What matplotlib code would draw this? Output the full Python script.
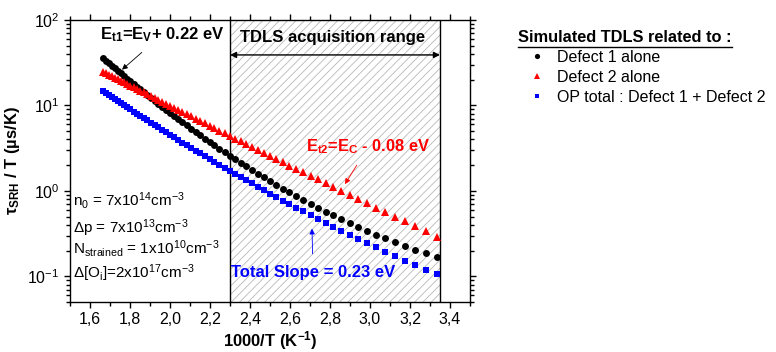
import matplotlib
matplotlib.use('Agg')
import matplotlib.pyplot as plt
import numpy as np
from matplotlib.ticker import MultipleLocator, FuncFormatter
from matplotlib.lines import Line2D

plt.rcParams['font.family'] = ['Liberation Sans', 'DejaVu Sans']
plt.rcParams['mathtext.fontset'] = 'custom'
plt.rcParams['mathtext.rm'] = 'Liberation Sans'
plt.rcParams['mathtext.it'] = 'Liberation Sans:italic'
plt.rcParams['mathtext.bf'] = 'Liberation Sans:bold'
plt.rcParams['hatch.linewidth'] = 0.6

# simulation temperatures (K), 5 K steps
temperature = [600, 595, 590, 585, 580, 575, 570, 565, 560, 555,
               550, 545, 540, 535, 530, 525, 520, 515, 510, 505,
               500, 495, 490, 485, 480, 475, 470, 465, 460, 455,
               450, 445, 440, 435, 430, 425, 420, 415, 410, 405,
               400, 395, 390, 385, 380, 375, 370, 365, 360, 355,
               350, 345, 340, 335, 330, 325, 320, 315, 310, 305, 300]

# tau_SRH / T (us/K)
defect1 = [35.8, 33.5, 31.3, 29.3, 27.4, 25.5, 23.8, 22.2, 20.6, 19.2,
           17.8, 16.6, 15.4, 14.2, 13.2, 12.2, 11.3, 10.4, 9.62, 8.87,
           8.17, 7.52, 6.92, 6.35, 5.83, 5.35, 4.90, 4.48, 4.10, 3.74,
           3.41, 3.11, 2.84, 2.58, 2.35, 2.13, 1.94, 1.76, 1.59, 1.44,
           1.30, 1.18, 1.06, 0.962, 0.867, 0.782, 0.705, 0.636, 0.573, 0.516,
           0.465, 0.419, 0.377, 0.340, 0.306, 0.277, 0.250, 0.226, 0.205, 0.186, 0.169]
defect2 = [24.9, 23.9, 23.0, 22.1, 21.2, 20.4, 19.5, 18.7, 17.9, 17.1,
           16.3, 15.6, 14.9, 14.2, 13.5, 12.9, 12.2, 11.6, 11.0, 10.5,
           9.92, 9.39, 8.87, 8.37, 7.90, 7.44, 7.00, 6.58, 6.18, 5.79,
           5.42, 5.07, 4.73, 4.41, 4.10, 3.81, 3.53, 3.27, 3.03, 2.79,
           2.57, 2.36, 2.17, 1.98, 1.81, 1.65, 1.50, 1.36, 1.23, 1.11,
           1.00, 0.898, 0.804, 0.717, 0.637, 0.565, 0.499, 0.439, 0.385, 0.336, 0.292]
op_total = [14.6, 13.9, 13.2, 12.5, 11.8, 11.2, 10.6, 10.0, 9.50, 8.97,
            8.47, 7.99, 7.53, 7.09, 6.67, 6.27, 5.88, 5.52, 5.17, 4.84,
            4.53, 4.23, 3.95, 3.68, 3.43, 3.19, 2.96, 2.75, 2.55, 2.36,
            2.19, 2.02, 1.86, 1.72, 1.58, 1.45, 1.33, 1.22, 1.12, 1.02,
            0.931, 0.849, 0.771, 0.701, 0.635, 0.575, 0.520, 0.469, 0.423, 0.380,
            0.341, 0.306, 0.274, 0.244, 0.218, 0.194, 0.172, 0.153, 0.135, 0.119, 0.105]

tdls_range = (2.3, 3.35)

inv_t = 1000.0 / np.array(temperature, dtype=float)

fig = plt.figure(figsize=(7.76, 3.52), dpi=100)
ax = fig.add_axes([70 / 776, 1 - 302 / 352, 400 / 776, 282 / 352])

# TDLS acquisition window
ax.axvspan(tdls_range[0], tdls_range[1], facecolor='white', edgecolor='#b8b8b8',
           hatch='////', linewidth=0, zorder=0)
for xv in tdls_range:
    ax.axvline(xv, color='black', lw=1.0, zorder=1)

h1, = ax.plot(inv_t, defect1, 'o', color='black', ms=5.0, mew=0, zorder=3)
h2, = ax.plot(inv_t, defect2, '^', color='#ff0000', ms=6.2, mew=0, zorder=3)
h3, = ax.plot(inv_t, op_total, 's', color='#0000ff', ms=4.5, mew=0, zorder=3)

ax.set_yscale('log')
ax.set_xlim(1.5, 3.5)
ax.set_ylim(0.05, 100)
ax.xaxis.set_major_locator(MultipleLocator(0.2))
ax.xaxis.set_minor_locator(MultipleLocator(0.1))
ax.xaxis.set_major_formatter(FuncFormatter(lambda v, _: f'{v:.1f}'.replace('.', ',')))
ax.tick_params(which='both', direction='out', top=True, right=True, labelsize=11.5, width=1)
ax.tick_params(which='major', length=4)
ax.tick_params(which='minor', length=3)
for sp in ax.spines.values():
    sp.set_linewidth(1.0)

ax.set_xlabel(r'1000/T (K$^{\mathbf{-1}}$)', fontsize=12, fontweight='bold', labelpad=1)
ax.set_ylabel(r'τ$_{\mathbf{SRH}}$ / T (µs/K)', fontsize=12, fontweight='bold', labelpad=4)

# range arrow and labels
ax.annotate('', xy=(tdls_range[0], 39), xytext=(tdls_range[1], 39),
            arrowprops=dict(arrowstyle='<|-|>', color='black', lw=1.0,
                            mutation_scale=9, shrinkA=0, shrinkB=0))
ax.text(2.815, 63, 'TDLS acquisition range', ha='center', va='center',
        fontsize=12, fontweight='bold')

ax.annotate(r'E$_{\mathbf{t1}}$=E$_{\mathbf{V}}$+ 0.22 eV', xy=(1.76, 26.2), xytext=(1.96, 67),
            ha='center', va='center', fontsize=12, fontweight='bold', color='black',
            arrowprops=dict(arrowstyle='-|>', color='black', lw=0.6, mutation_scale=8,
                            shrinkA=6, shrinkB=0))
ax.annotate(r'E$_{\mathbf{t2}}$=E$_{\mathbf{C}}$ - 0.08 eV', xy=(2.875, 1.2), xytext=(2.99, 3.25),
            ha='center', va='center', fontsize=11.8, fontweight='bold', color='#ff0000',
            arrowprops=dict(arrowstyle='-|>', color='#ff0000', lw=0.6, mutation_scale=8,
                            shrinkA=5, shrinkB=0))
ax.annotate('Total Slope = 0.23 eV', xy=(2.71, 0.361), xytext=(2.715, 0.111),
            ha='center', va='center', fontsize=12, fontweight='bold', color='#0000ff',
            arrowprops=dict(arrowstyle='-|>', color='#0000ff', lw=0.6, mutation_scale=8,
                            shrinkA=6, shrinkB=0))

# simulation parameters
params = [(0.766, r'n$_\mathrm{0}$ = 7x10$^\mathrm{14}$cm$^\mathrm{-3}$'),
          (0.361, r'Δp = 7x10$^\mathrm{13}$cm$^\mathrm{-3}$'),
          (0.212, r'N$_\mathrm{strained}$ = 1x10$^\mathrm{10}$cm$^\mathrm{-3}$'),
          (0.108, r'Δ[O$_\mathrm{i}$]=2x10$^\mathrm{17}$cm$^\mathrm{-3}$')]
for yv, s in params:
    ax.text(1.515, yv, s, ha='left', va='center', fontsize=11)

# legend
title = fig.text(518 / 776, 1 - 38 / 352, 'Simulated TDLS related to :', ha='left', va='center',
                 fontsize=11.8, fontweight='bold')
fig.legend([h1, h2, h3], ['Defect 1 alone', 'Defect 2 alone', 'OP total : Defect 1 + Defect 2'],
           loc='upper left', bbox_to_anchor=(531 / 776, 1 - 50 / 352), frameon=False,
           fontsize=11.5, handlelength=0.8, handletextpad=0.85, borderpad=0, borderaxespad=0,
           labelspacing=0.3, markerscale=0.75)

fig.canvas.draw()
bb = title.get_window_extent()
uy = (bb.y0 - 1) / fig.bbox.height
fig.add_artist(Line2D([bb.x0 / fig.bbox.width, bb.x1 / fig.bbox.width], [uy, uy],
                      color='black', lw=1.0, transform=fig.transFigure))

fig.savefig('out.png', dpi=100)
